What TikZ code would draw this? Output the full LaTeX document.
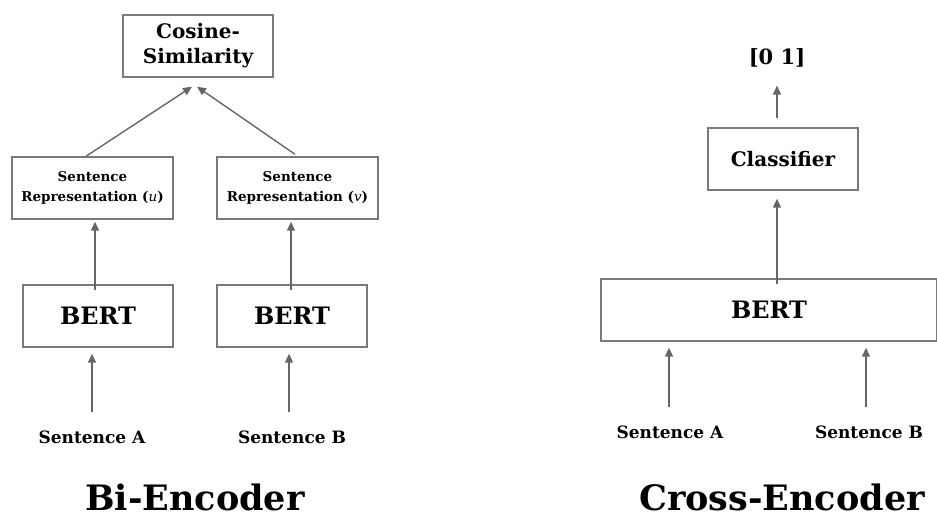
\documentclass[tikz,border=0pt]{standalone}
\usepackage{fontspec}
\setmainfont{DejaVu Serif}
\usetikzlibrary{arrows.meta}
\definecolor{boxgray}{HTML}{7A7A7A}
\definecolor{arrgray}{HTML}{666666}
\tikzset{
  blk/.style={draw=boxgray, line width=1.4pt, rectangle, minimum height=62pt, inner sep=0pt, align=center, font=\bfseries},
  arr/.style={draw=arrgray, line width=1.4pt, -{Triangle[length=9pt,width=8pt]}},
  lbl/.style={inner sep=0pt, font=\bfseries}
}
\newcommand{\fs}[1]{\fontsize{#1}{#1}\selectfont}
\begin{document}
\begin{tikzpicture}[x=1pt,y=-1pt]
\useasboundingbox (0,0) rectangle (937,518);
% Bi-encoder
\node[blk, minimum width=150pt, font=\bfseries\fontsize{20}{25}\selectfont] (cos) at (198,46) {Cosine-\\Similarity};
\node[blk, minimum width=161pt, font=\bfseries\fontsize{13.5}{20}\selectfont] (sru) at (92.5,188) {Sentence\\Representation ({\mdseries\itshape u})};
\node[blk, minimum width=161pt, font=\bfseries\fontsize{13.5}{20}\selectfont] (srv) at (297.5,188) {Sentence\\Representation ({\mdseries\itshape v})};
\node[blk, minimum width=150pt, font=\bfseries\fs{24}] (bertl) at (98,316) {BERT};
\node[blk, minimum width=150pt, font=\bfseries\fs{24}] (bertr) at (292,316) {BERT};
\node[lbl, font=\bfseries\fs{17}] (sa) at (92,437) {Sentence A};
\node[lbl, font=\bfseries\fs{17}] (sb) at (292,437) {Sentence B};
\node[lbl, font=\bfseries\fs{35}] (bi) at (195,497) {Bi-Encoder};
\draw[arr] ([xshift=-6.5pt]sru.north) -- ([xshift=-6pt,yshift=-9pt]cos.south);
\draw[arr] ([xshift=-2.5pt,yshift=2pt]srv.north) -- ([xshift=-1pt,yshift=-9pt]cos.south);
\draw[arr] ([xshift=-3pt,yshift=-6pt]bertl.north) -- ([xshift=2.5pt,yshift=-2pt]sru.south);
\draw[arr] ([xshift=-1pt,yshift=-6pt]bertr.north) -- ([xshift=-6.5pt,yshift=-2pt]srv.south);
\draw[arr] ([yshift=18pt]sa.north) -- ([xshift=-6pt,yshift=-6pt]bertl.south);
\draw[arr] ([xshift=-3pt,yshift=18pt]sb.north) -- ([xshift=-3pt,yshift=-6pt]bertr.south);
% Cross-encoder
\node[lbl, font=\bfseries\fs{21}] (out) at (777,58) {[0 1]};
\node[blk, minimum width=150pt, font=\bfseries\fs{20}] (cls) at (783,159) {Classifier};
\node[blk, minimum width=336pt, font=\bfseries\fs{24}] (bertc) at (769,310) {BERT};
\node[lbl, font=\bfseries\fs{17}] (ca) at (670,432) {Sentence A};
\node[lbl, font=\bfseries\fs{17}] (cb) at (869,432) {Sentence B};
\node[lbl, font=\bfseries\fs{35}] (ce) at (782,497) {Cross-Encoder};
\draw[arr] ([xshift=-6pt,yshift=9pt]cls.north) -- ([yshift=-18pt]out.south);
\draw[arr] ([xshift=8pt,yshift=-6pt]bertc.north) -- ([xshift=-6pt,yshift=-8pt]cls.south);
\draw[arr] ([xshift=-1pt,yshift=18pt]ca.north) -- ([xshift=-1pt,yshift=-6pt]bertc.south -| ca.north);
\draw[arr] ([xshift=-3pt,yshift=18pt]cb.north) -- ([xshift=-3pt,yshift=-6pt]bertc.south -| cb.north);
\end{tikzpicture}
\end{document}
